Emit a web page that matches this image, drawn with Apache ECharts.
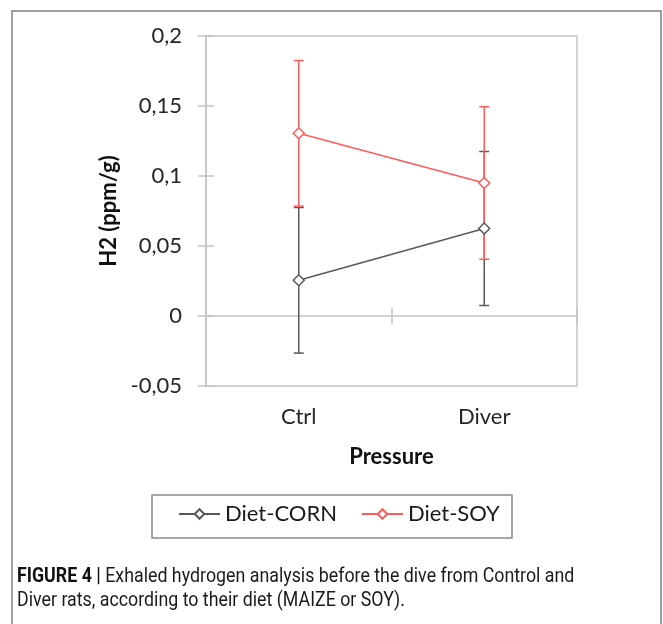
<!DOCTYPE html>
<html>
<head>
<meta charset="utf-8">
<script src="https://cdn.jsdelivr.net/npm/echarts@6/dist/echarts.min.js"></script>
<style>
html,body{margin:0;padding:0;background:#fff;}
#c{width:663px;height:624px;}
</style>
</head>
<body>
<div id="c"></div>
<script>
var categories = ['Ctrl', 'Diver'];
var cornMean = [0.0255, 0.0625];
var cornErr = [0.052, 0.055];
var soyMean = [0.1305, 0.095];
var soyErr = [0.052, 0.0545];
var yTicks = {min: -0.05, max: 0.2, interval: 0.05};

var GRAY = '#595959', RED = '#ff5b5b', AXIS = '#c4c4c4';
var FONT = 'Lato';

function errData(mean, err) {
  return mean.map(function (m, i) { return [i, m - err[i], m + err[i]]; });
}
function errRender(color) {
  return function (params, api) {
    var x = api.value(0);
    var lo = api.coord([x, api.value(1)]);
    var hi = api.coord([x, api.value(2)]);
    var w = 5;
    var st = {stroke: color, lineWidth: 1.5};
    return {type: 'group', children: [
      {type: 'line', shape: {x1: lo[0], y1: lo[1], x2: hi[0], y2: hi[1]}, style: st},
      {type: 'line', shape: {x1: lo[0] - w, y1: lo[1], x2: lo[0] + w, y2: lo[1]}, style: st},
      {type: 'line', shape: {x1: hi[0] - w, y1: hi[1], x2: hi[0] + w, y2: hi[1]}, style: st}
    ]};
  };
}
function fmt(v) { return String(Math.round(v * 100) / 100).replace('.', ','); }

var chart = echarts.init(document.getElementById('c'), null, {renderer: 'canvas'});
var baseX = {type: 'category', data: categories, boundaryGap: true};
chart.setOption({
  animation: false,
  backgroundColor: '#fff',
  grid: {left: 206, right: 86, top: 36, bottom: 238, show: true, borderColor: AXIS, borderWidth: 1.5, containLabel: false},
  xAxis: [
    Object.assign({}, baseX, {
      position: 'bottom',
      axisLine: {show: false, onZero: false},
      axisTick: {show: false},
      axisLabel: {margin: 20, fontFamily: FONT, fontSize: 22, color: '#262626'},
      name: 'Pressure', nameLocation: 'middle', nameGap: 60,
      nameTextStyle: {fontFamily: FONT, fontSize: 22, fontWeight: 'bold', color: '#111'}
    }),
    Object.assign({}, baseX, {
      position: 'bottom',
      axisLine: {show: true, onZero: true, onZeroAxisIndex: 0, lineStyle: {color: AXIS, width: 1.5}},
      axisTick: {show: true, inside: false, length: 8, interval: 0, lineStyle: {color: AXIS, width: 1.5}},
      axisLabel: {show: false}
    }),
    Object.assign({}, baseX, {
      position: 'bottom',
      axisLine: {show: false, onZero: true, onZeroAxisIndex: 0},
      axisTick: {show: true, inside: true, length: 8, interval: 0, lineStyle: {color: AXIS, width: 1.5}},
      axisLabel: {show: false}
    })
  ],
  yAxis: [
    {
      type: 'value', min: yTicks.min, max: yTicks.max, interval: yTicks.interval, position: 'left',
      splitLine: {show: false},
      axisLine: {show: true, onZero: false, lineStyle: {color: AXIS, width: 1.5}},
      axisTick: {show: true, inside: false, length: 8, lineStyle: {color: AXIS, width: 1.5}},
      axisLabel: {margin: 24, fontFamily: FONT, fontSize: 22, color: '#262626', formatter: fmt},
      name: 'H2 (ppm/g)', nameLocation: 'middle', nameGap: 80, nameRotate: 90,
      nameTextStyle: {fontFamily: FONT, fontSize: 22, fontWeight: 'bold', color: '#111'}
    },
    {
      type: 'value', min: yTicks.min, max: yTicks.max, interval: yTicks.interval, position: 'left',
      splitLine: {show: false},
      axisLine: {show: false, onZero: false},
      axisTick: {show: true, inside: true, length: 8, lineStyle: {color: AXIS, width: 1.5}},
      axisLabel: {show: false}
    }
  ],
  legend: {
    data: ['Diet-CORN', 'Diet-SOY'],
    left: 178, top: 503, padding: 0, itemGap: 24, itemWidth: 41, itemHeight: 12,
    textStyle: {fontFamily: FONT, fontSize: 22, color: '#1a1a1a'}
  },
  graphic: [
    {type: 'rect', shape: {x: 12, y: 11, width: 649, height: 640}, style: {fill: 'none', stroke: '#808080', lineWidth: 1.5}, silent: true},
    {type: 'rect', shape: {x: 152, y: 495, width: 360, height: 43}, style: {fill: 'none', stroke: '#8a8a8a', lineWidth: 1.5}, silent: true},
    {type: 'text', x: 17, y: 577, scaleX: 0.89, style: {
      text: '{b|FIGURE 4 |} Exhaled hydrogen analysis before the dive from Control and',
      fontFamily: 'Roboto', fontSize: 20, fill: '#1a1a1a', verticalAlign: 'middle',
      rich: {b: {fontFamily: 'Roboto', fontSize: 20, fontWeight: 'bold', fill: '#111'}}
    }},
    {type: 'text', x: 17, y: 601, scaleX: 0.89, style: {
      text: 'Diver rats, according to their diet (MAIZE or SOY).',
      fontFamily: 'Roboto', fontSize: 20, fill: '#1a1a1a', verticalAlign: 'middle'
    }}
  ],
  series: [
    {type: 'custom', name: 'err-corn', renderItem: errRender(GRAY), data: errData(cornMean, cornErr), z: 2, silent: true},
    {type: 'custom', name: 'err-soy', renderItem: errRender(RED), data: errData(soyMean, soyErr), z: 2, silent: true},
    {type: 'line', name: 'Diet-CORN', data: cornMean, symbol: 'diamond', symbolSize: 11, z: 3,
      lineStyle: {color: GRAY, width: 1.5}, itemStyle: {color: '#fff', borderColor: GRAY, borderWidth: 1.5}},
    {type: 'line', name: 'Diet-SOY', data: soyMean, symbol: 'diamond', symbolSize: 11, z: 3,
      lineStyle: {color: RED, width: 1.5}, itemStyle: {color: '#fff', borderColor: RED, borderWidth: 1.5}}
  ]
});
</script>
</body>
</html>
